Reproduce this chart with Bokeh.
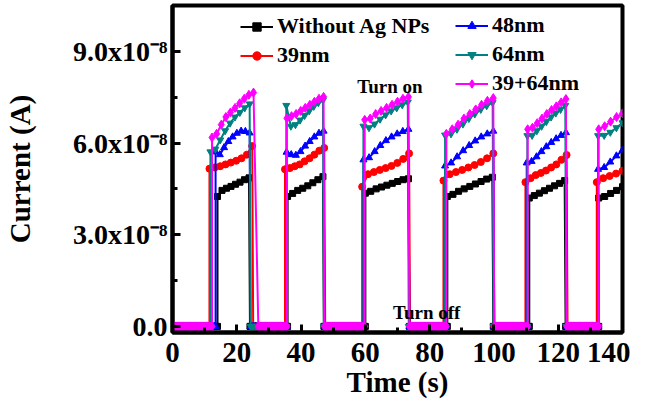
import numpy as np
from bokeh.plotting import figure
from bokeh.models import Range1d, FixedTicker, Legend, LegendItem, Label
from bokeh.embed import file_html
from bokeh.resources import INLINE

# ---------------- data (current in units of 1e-8 A, time in s) ----------------
T_END = 140.0
DARK_STEP = 0.5          # sampling of the dark (off) current, which reads 0.0

SERIES_NAMES = ["Without Ag NPs", "39nm", "48nm", "64nm", "39+64nm"]

# Without Ag NPs
RISE_BLACK = [14.0, 35.8, 60.0, 85.5, 111.0, 132.6]
FALL_BLACK = [23.8, 46.8, 73.4, 99.5, 122.0]
FALLEND_BLACK = [24.1, 47.1, 73.7, 99.8, 122.3]
ON_BLACK = [
    [4.25, 4.45, 4.52, 4.58, 4.65, 4.72, 4.80, 4.86],
    [4.25, 4.35, 4.45, 4.52, 4.60, 4.70, 4.80, 4.90],
    [4.36, 4.42, 4.50, 4.56, 4.62, 4.68, 4.74, 4.80, 4.83],
    [4.25, 4.32, 4.42, 4.50, 4.58, 4.66, 4.74, 4.82, 4.88],
    [4.20, 4.28, 4.36, 4.44, 4.52, 4.60, 4.68, 4.77],
    [4.20, 4.25, 4.35, 4.45, 4.57],
]

# 39nm
RISE_RED = [11.5, 35.0, 59.0, 84.3, 109.8, 132.0]
FALL_RED = [24.8, 47.2, 73.6, 99.8, 122.6]
FALLEND_RED = [25.1, 47.5, 73.9, 100.1, 122.9]
ON_RED = [
    [5.16, 5.20, 5.24, 5.30, 5.36, 5.42, 5.50, 5.62, 5.90],
    [5.14, 5.18, 5.24, 5.30, 5.40, 5.50, 5.62, 5.75, 5.84],
    [4.57, 4.98, 5.05, 5.12, 5.18, 5.25, 5.35, 5.48, 5.66],
    [4.77, 4.98, 5.05, 5.12, 5.20, 5.28, 5.38, 5.50, 5.66],
    [4.72, 4.85, 4.95, 5.02, 5.10, 5.20, 5.30, 5.45, 5.61],
    [4.72, 4.85, 4.92, 5.00, 5.09],
]

# 48nm
RISE_BLUE = [13.4, 35.5, 59.4, 84.8, 110.2, 132.4]
FALL_BLUE = [24.0, 47.0, 73.4, 99.8, 122.4]
FALLEND_BLUE = [24.3, 47.3, 73.7, 100.1, 122.7]
ON_BLUE = [
    [5.71, 5.62, 5.85, 6.05, 6.20, 6.32, 6.39, 6.38, 6.33],
    [5.70, 5.62, 5.60, 5.72, 5.90, 6.05, 6.20, 6.32, 6.39],
    [5.45, 5.52, 5.72, 5.92, 6.08, 6.20, 6.30, 6.38, 6.45],
    [5.25, 5.35, 5.55, 5.75, 5.92, 6.07, 6.20, 6.30, 6.39],
    [5.35, 5.40, 5.55, 5.72, 5.88, 6.02, 6.14, 6.25, 6.34],
    [5.14, 5.20, 5.38, 5.58, 5.77],
]

# 64nm
RISE_GREEN = [11.8, 35.4, 59.4, 84.8, 110.4, 132.4]
FALL_GREEN = [24.0, 46.8, 73.2, 99.6, 122.2]
FALLEND_GREEN = [24.3, 47.1, 73.5, 99.9, 122.5]
ON_GREEN = [
    [5.71, 5.80, 6.10, 6.40, 6.65, 6.85, 7.00, 7.15, 7.28],
    [7.23, 6.55, 6.60, 6.75, 6.90, 7.05, 7.20, 7.32, 7.40],
    [6.55, 6.50, 6.62, 6.78, 6.92, 7.05, 7.15, 7.25, 7.34],
    [6.26, 6.30, 6.45, 6.62, 6.80, 6.95, 7.10, 7.22, 7.32],
    [6.24, 6.25, 6.40, 6.55, 6.70, 6.85, 6.98, 7.10, 7.23],
    [6.24, 6.25, 6.35, 6.50, 6.66],
]

# 39+64nm
RISE_MAG = [12.3, 35.6, 59.8, 85.2, 110.5, 132.6]
FALL_MAG = [25.2, 47.0, 73.4, 99.8, 122.4]
FALLEND_MAG = [26.7, 47.3, 73.7, 100.1, 122.7]
ON_MAG = [
    [6.18, 6.30, 6.60, 6.85, 7.00, 7.15, 7.30, 7.45, 7.58, 7.65],
    [6.81, 6.88, 6.95, 7.05, 7.15, 7.25, 7.35, 7.45, 7.51],
    [6.76, 6.80, 6.95, 7.05, 7.15, 7.25, 7.35, 7.45, 7.51],
    [6.30, 6.45, 6.60, 6.80, 6.95, 7.10, 7.25, 7.38, 7.47],
    [6.45, 6.50, 6.65, 6.80, 6.95, 7.08, 7.20, 7.33, 7.44],
    [6.45, 6.55, 6.70, 6.85, 6.97],
]

X_TICKS = [0, 20, 40, 60, 80, 100, 120, 140]
X_MINOR = [10, 30, 50, 70, 90, 110, 130]
Y_TICKS = [0, 3, 6, 9]
Y_MINOR = [1.5, 4.5, 7.5]
Y_LABELS = ["0.0", "3.0x10\u207b\u2078", "6.0x10\u207b\u2078", "9.0x10\u207b\u2078"]

NOTES = [("Turn on", 57.5, 7.85), ("Turn off", 68.6, 0.46)]

FONT = "Liberation Serif"


def trace(rise, fall, fall_end, on_vals):
    t, i = [], []
    prev = 0.0
    for k, r in enumerate(rise):
        dark_t = list(np.arange(prev, r, DARK_STEP)) + [r]
        t += dark_t
        i += [0.0] * len(dark_t)
        end = fall[k] if k < len(fall) else T_END
        t += list(np.linspace(r, end, len(on_vals[k])))
        i += list(on_vals[k])
        if k < len(fall):
            prev = fall_end[k]
    return t, i


p = figure(width=630, height=400, output_backend="svg", toolbar_location=None,
           x_range=Range1d(0, 140), y_range=Range1d(-0.2, 10.5),
           min_border_left=172, min_border_right=8, min_border_top=5,
           min_border_bottom=64)
p.grid.visible = False
p.outline_line_color = "black"
p.outline_line_width = 4
p.background_fill_color = "white"

specs = [
    ("Without Ag NPs", RISE_BLACK, FALL_BLACK, FALLEND_BLACK, ON_BLACK, "#000000", "square", 6),
    ("39nm", RISE_RED, FALL_RED, FALLEND_RED, ON_RED, "#FF0000", "circle", 7),
    ("48nm", RISE_BLUE, FALL_BLUE, FALLEND_BLUE, ON_BLUE, "#0000FF", "triangle", 7),
    ("64nm", RISE_GREEN, FALL_GREEN, FALLEND_GREEN, ON_GREEN, "#008080", "inverted_triangle", 7),
    ("39+64nm", RISE_MAG, FALL_MAG, FALLEND_MAG, ON_MAG, "#FF00FF", "diamond", 9),
]

items = {}
for name, rise, fall, fend, on, col, mk, sz in specs:
    t, i = trace(rise, fall, fend, on)
    ln = p.line(t, i, line_color=col, line_width=2)
    sc = p.scatter(t, i, marker=mk, size=sz, fill_color=col, line_color=col)
    items[name] = LegendItem(label=name, renderers=[ln, sc])

# axes
for ax in (p.xaxis[0], p.yaxis[0]):
    ax.axis_line_width = 4
    ax.major_tick_line_width = 3
    ax.minor_tick_line_width = 3
    ax.major_tick_in = 8
    ax.major_tick_out = 0
    ax.minor_tick_in = 5
    ax.minor_tick_out = 0
    ax.major_label_text_font = FONT
    ax.major_label_text_font_style = "bold"
    ax.major_label_text_color = "black"
    ax.axis_label_text_font = FONT
    ax.axis_label_text_font_style = "bold"
    ax.axis_label_text_font_size = "29px"
    ax.axis_label_text_color = "black"

p.xaxis.ticker = FixedTicker(ticks=X_TICKS, minor_ticks=X_MINOR)
p.xaxis.major_label_text_font_size = "29px"
p.xaxis.major_label_standoff = 10
p.xaxis.axis_label = "Time (s)"
p.xaxis.axis_label_standoff = 1

p.yaxis.ticker = FixedTicker(ticks=Y_TICKS, minor_ticks=Y_MINOR)
p.yaxis.major_label_overrides = {k: v for k, v in zip(Y_TICKS, Y_LABELS)}
p.yaxis.major_label_text_font_size = "28px"
p.yaxis.major_label_standoff = 5
p.yaxis.axis_label = "Current (A)"
p.yaxis.axis_label_standoff = 34

for txt, x, y in NOTES:
    p.add_layout(Label(x=x, y=y, text=txt, text_font=FONT, text_font_style="bold",
                       text_font_size="19px", text_baseline="middle", text_color="black"))

common = dict(padding=0, margin=0, spacing=3, glyph_width=33, glyph_height=21,
              label_height=21, label_standoff=4, border_line_alpha=0,
              background_fill_alpha=0, label_text_font=FONT,
              label_text_font_style="bold", label_text_font_size="22px",
              label_text_color="black")
leg1 = Legend(items=[items["Without Ag NPs"], items["39nm"]], location=(68, 264), **common)
leg2 = Legend(items=[items["48nm"], items["64nm"], items["39+64nm"]], location=(283, 236), **common)
p.add_layout(leg1, "center")
p.add_layout(leg2, "center")

open("out.html", "w").write(file_html(p, INLINE))
